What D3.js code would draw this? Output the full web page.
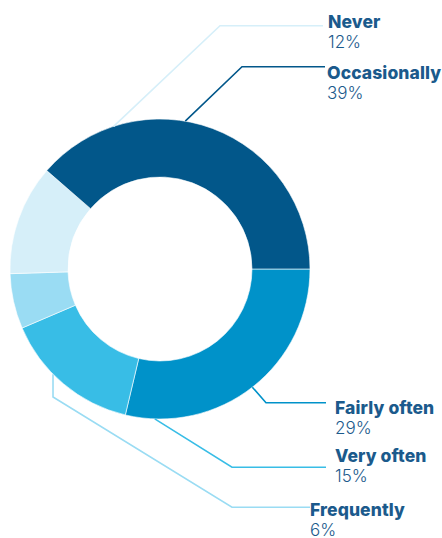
<!DOCTYPE html>
<html>
<head>
<meta charset="utf-8">
<script src="https://cdn.jsdelivr.net/npm/d3@7/dist/d3.min.js"></script>
<style>
  html, body { margin: 0; padding: 0; background: #ffffff; }
  svg { display: block; }
  .name { font-family: Inter, "Open Sans", sans-serif; font-weight: 800; font-size: 17.5px; letter-spacing: 0.1px; }
  .pct { font-family: Inter, "Open Sans", sans-serif; font-weight: 300; font-size: 17px; }
</style>
</head>
<body>
<svg id="chart" width="442" height="538"></svg>
<script>
// Survey answers, listed clockwise starting at three o'clock
const categories = ["Fairly often", "Very often", "Frequently", "Never", "Occasionally"];
const values = [29, 15, 6, 12, 39];
const valueLabels = ["29%", "15%", "6%", "12%", "39%"];
const colors = ["#0092c9", "#38bde6", "#9adcf3", "#d6eff9", "#02578a"];

const width = 442, height = 538;
const cx = 160, cy = 269;
const outerR = 150, innerR = 92;
const textColor = "#1b5a8c";

// Callout layout: where the leader leaves the ring (degrees, clockwise from 12),
// the elbow point, the end of the horizontal run and the label anchor.
const callouts = {
  "Never":        { angle: 342, elbow: [220, 25.7], end: [323, 25.7], label: [328, 28] },
  "Occasionally": { angle: 9.7, elbow: [242, 66.7], end: [325, 66.7], label: [327, 79] },
  "Fairly often": { angle: 142, elbow: [266, 402.7], end: [326, 402.7], label: [335, 413.5] },
  "Very often":   { angle: 182, elbow: [232, 467.3], end: [326, 467.3], label: [335, 462] },
  "Frequently":   { angle: 225.5, drop: 397, elbow: [232, 507.3], end: [310, 507.3], label: [310, 515.5] }
};

const svg = d3.select("#chart");

const pie = d3.pie()
  .value(d => d.value)
  .sort(null)
  .startAngle(Math.PI / 2)
  .endAngle(Math.PI / 2 + 2 * Math.PI);

const data = categories.map((c, i) => ({ name: c, value: values[i], label: valueLabels[i], color: colors[i] }));
const arcs = pie(data);

const arc = d3.arc().innerRadius(innerR).outerRadius(outerR);

const g = svg.append("g").attr("transform", `translate(${cx},${cy})`);
g.selectAll("path.slice")
  .data(arcs)
  .join("path")
  .attr("class", "slice")
  .attr("d", arc)
  .attr("fill", d => d.data.color)
  .attr("stroke", "#ffffff")
  .attr("stroke-width", 0.6);

// Leader lines
const line = d3.line();
data.forEach(d => {
  const c = callouts[d.name];
  const a = c.angle * Math.PI / 180;
  const start = [cx + outerR * Math.sin(a), cy - outerR * Math.cos(a)];
  const pts = [start];
  if (c.drop !== undefined) pts.push([start[0], c.drop]);
  pts.push(c.elbow, c.end);
  svg.append("path")
    .attr("d", line(pts))
    .attr("fill", "none")
    .attr("stroke", d.color)
    .attr("stroke-width", 1.6);
});

// Labels
data.forEach(d => {
  const c = callouts[d.name];
  const t = svg.append("text")
    .attr("x", c.label[0])
    .attr("y", c.label[1])
    .attr("fill", textColor);
  t.append("tspan").attr("class", "name").text(d.name);
  t.append("tspan").attr("class", "pct")
    .attr("x", c.label[0]).attr("dy", 20).text(d.label);
});
</script>
</body>
</html>
